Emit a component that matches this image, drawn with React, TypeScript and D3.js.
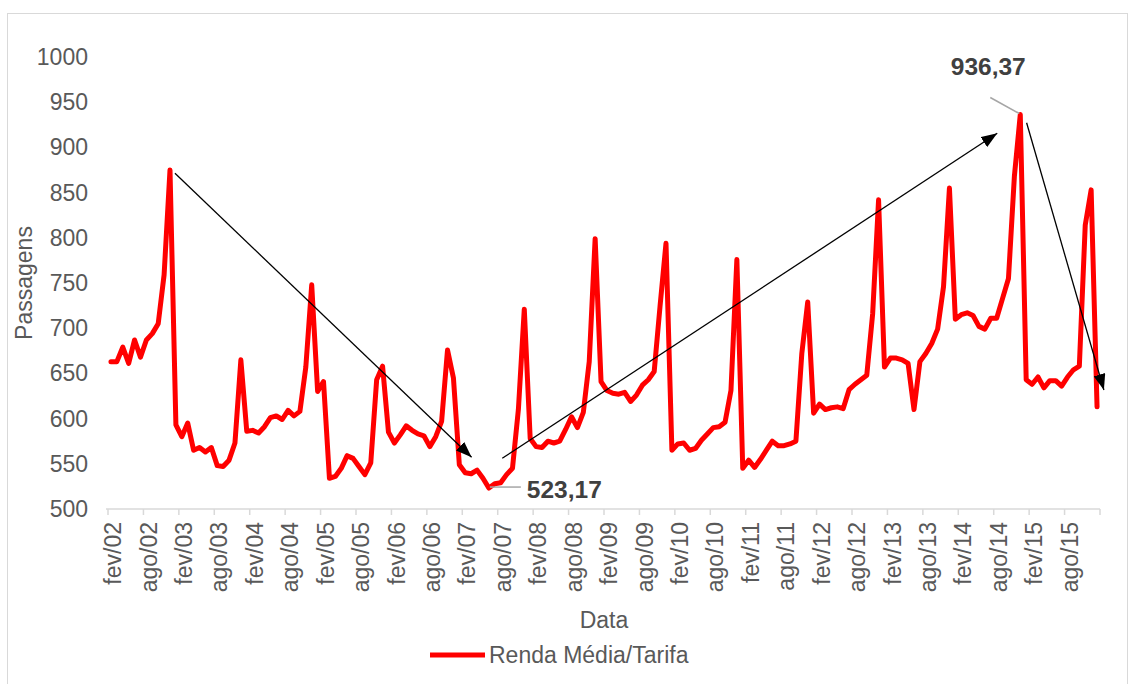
import React from "react";
import * as d3 from "d3";

// Monthly series, fev/2002 .. jan/2016
const MONTHS = ["jan", "fev", "mar", "abr", "mai", "jun", "jul", "ago", "set", "out", "nov", "dez"];
const START_YEAR = 2002;
const START_MONTH = 1; // fev

const values2002 = [663, 663, 679, 661, 687, 668, 687, 694, 705, 759, 875];
const values2003 = [593, 580, 595, 565, 568, 563, 568, 548, 547, 554, 573, 665];
const values2004 = [586, 587, 584, 591, 601, 603, 599, 609, 603, 608, 657, 748];
const values2005 = [630, 641, 534, 536, 545, 559, 556, 547, 538, 551, 643, 658];
const values2006 = [585, 573, 582, 592, 587, 583, 581, 569, 580, 597, 676, 645];
const values2007 = [549, 540, 539, 543, 534, 523.17, 528, 529, 538, 545, 610, 721];
const values2008 = [578, 569, 568, 575, 573, 575, 588, 602, 590, 607, 663, 799];
const values2009 = [641, 631, 628, 627, 629, 619, 626, 637, 643, 652, 725, 794];
const values2010 = [565, 572, 573, 565, 567, 576, 583, 590, 591, 596, 631, 776];
const values2011 = [545, 554, 546, 555, 565, 575, 570, 570, 572, 575, 672, 729];
const values2012 = [606, 616, 610, 612, 613, 611, 632, 638, 643, 648, 716, 842];
const values2013 = [657, 667, 667, 665, 661, 610, 663, 672, 683, 699, 746, 855];
const values2014 = [710, 715, 717, 714, 702, 699, 711, 711, 733, 755, 868, 936.37];
const values2015 = [643, 638, 646, 634, 642, 642, 636, 646, 654, 658, 814, 853];
const values2016 = [613];

const series = [
  ...values2002, ...values2003, ...values2004, ...values2005, ...values2006,
  ...values2007, ...values2008, ...values2009, ...values2010, ...values2011,
  ...values2012, ...values2013, ...values2014, ...values2015, ...values2016,
];

const categories = series.map((_, i) => {
  const m = START_MONTH + i;
  const yy = (START_YEAR + Math.floor(m / 12)) % 100;
  return `${MONTHS[m % 12]}/${String(yy).padStart(2, "0")}`;
});

const yTicks = [500, 550, 600, 650, 700, 750, 800, 850, 900, 950, 1000];
const TICK_EVERY = 6;

// Trend arrows, in (month index, value) space
const trendArrows = [
  { from: [10.84, 871.4], to: [61.08, 557.2] },
  { from: [66.27, 556.1], to: [150.1, 915.6] },
  { from: [155.07, 927.3], to: [168.16, 631.6] },
];

const SERIES_NAME = "Renda Média/Tarifa";
const FONT = "'Liberation Sans', Arial, Helvetica, sans-serif";
const TEXT = "#595959";

export default function App() {
  const W = 1130;
  const H = 684;
  const left = 108;
  const right = 1100;
  const top = 57;
  const bottom = 509;

  const x = d3.scaleBand<string>().domain(categories).range([left, right]).padding(0);
  const bw = x.bandwidth();
  const cx = (i: number) => (x(categories[i]) as number) + bw / 2;
  const xi = (idx: number) => left + bw / 2 + idx * bw;
  const y = d3.scaleLinear().domain([500, 1000]).range([bottom, top]);

  const line = d3
    .line<number>()
    .x((_, i) => cx(i))
    .y((v) => y(v))
    .curve(d3.curveLinear);

  const minIdx = d3.minIndex(series);
  const maxIdx = d3.maxIndex(series);
  const fmt = (v: number) => v.toFixed(2).replace(".", ",");

  const tickBounds = categories
    .map((_, i) => i)
    .filter((i) => i % TICK_EVERY === 0)
    .map((i) => x(categories[i]) as number)
    .concat([right]);

  const minX = cx(minIdx);
  const minY = y(series[minIdx]);
  const maxX = cx(maxIdx);
  const maxY = y(series[maxIdx]);

  return (
    <div style={{ position: "fixed", left: 0, top: 0, width: W, height: H, background: "#fff" }}>
      <svg width={W} height={H} style={{ display: "block" }} fontFamily={FONT}>
        <defs>
          <marker id="arrowHead" viewBox="0 0 16 12" refX="16" refY="6" markerWidth="16" markerHeight="12" markerUnits="userSpaceOnUse" orient="auto">
            <path d="M0,0 L16,6 L0,12 Z" fill="#000" />
          </marker>
        </defs>
        <rect x={7.5} y={13.5} width={1120} height={700} fill="none" stroke="#d9d9d9" strokeWidth={1} />

        {/* y axis labels */}
        {yTicks.map((t) => (
          <text key={t} x={88} y={y(t)} dy="0.35em" textAnchor="end" fontSize={23} fill={TEXT}>
            {t}
          </text>
        ))}

        {/* x axis */}
        <line x1={left - 2} x2={right} y1={bottom} y2={bottom} stroke="#d9d9d9" strokeWidth={1.5} />
        {tickBounds.map((bx, k) => (
          <line key={k} x1={bx} x2={bx} y1={bottom} y2={bottom + 6} stroke="#d9d9d9" strokeWidth={1.5} />
        ))}
        {categories.map((c, i) =>
          i % TICK_EVERY === 0 ? (
            <text
              key={c}
              transform={`translate(${cx(i)},${522}) rotate(-90)`}
              dy="0.44em"
              textAnchor="end"
              fontSize={23}
              fill={TEXT}
            >
              {c}
            </text>
          ) : null
        )}

        {/* axis titles */}
        <text transform={`translate(32,283) rotate(-90)`} textAnchor="middle" fontSize={23} fill={TEXT}>
          Passagens
        </text>
        <text x={604} y={628} textAnchor="middle" fontSize={23} fill={TEXT}>
          Data
        </text>

        {/* series */}
        <path d={line(series) || ""} fill="none" stroke="#ff0000" strokeWidth={5} strokeLinejoin="round" strokeLinecap="round" />

        {/* trend arrows */}
        {trendArrows.map((a, k) => (
          <line
            key={k}
            x1={xi(a.from[0])}
            y1={y(a.from[1])}
            x2={xi(a.to[0])}
            y2={y(a.to[1])}
            stroke="#000"
            strokeWidth={1.3}
            markerEnd="url(#arrowHead)"
          />
        ))}

        {/* data labels */}
        <line x1={minX + 1} y1={minY - 1} x2={minX + 32} y2={minY - 1} stroke="#a6a6a6" strokeWidth={1.5} />
        <text x={minX + 38} y={minY + 10} fontSize={24.5} fontWeight="bold" fill="#404040">
          {fmt(series[minIdx])}
        </text>
        <line x1={maxX - 1} y1={maxY - 1} x2={maxX - 30} y2={maxY - 17} stroke="#a6a6a6" strokeWidth={1.5} />
        <text x={maxX - 32} y={maxY - 40} textAnchor="middle" fontSize={24.5} fontWeight="bold" fill="#404040">
          {fmt(series[maxIdx])}
        </text>

        {/* legend */}
        <line x1={430} x2={485} y1={655} y2={655} stroke="#ff0000" strokeWidth={5} />
        <text x={489} y={663} fontSize={23} fill={TEXT}>
          {SERIES_NAME}
        </text>
      </svg>
    </div>
  );
}
